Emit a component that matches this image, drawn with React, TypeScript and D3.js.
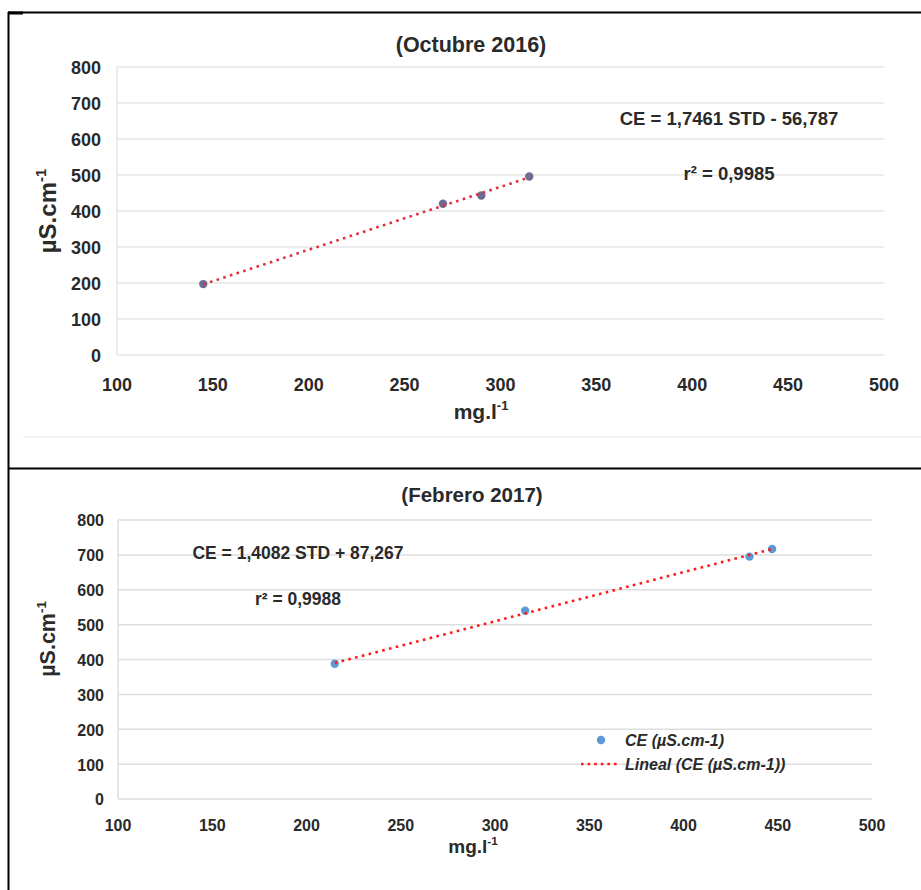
import React from "react";
import * as d3 from "d3";

// Calibration data: conductivity (CE, µS/cm) versus dissolved solids (STD, mg/l)
const octSTD = [145, 270, 290, 315];
const octCE = [197, 420, 443, 496];
const octSlope = 1.7461;
const octIntercept = -56.787;
const octR2 = 0.9985;

const febSTD = [215, 316, 435, 447];
const febCE = [388, 540, 695, 717];
const febSlope = 1.4082;
const febIntercept = 87.267;
const febR2 = 0.9988;

const xTicks = [100, 150, 200, 250, 300, 350, 400, 450, 500];
const yTicks = [0, 100, 200, 300, 400, 500, 600, 700, 800];

const FONT = "'Liberation Sans', Arial, Helvetica, sans-serif";
const TEXT = "#2a2a2a";

const fmt = (v: number, digits: number) => v.toFixed(digits).replace(".", ",");

type PanelProps = {
  title: string;
  xs: number[];
  ys: number[];
  slope: number;
  intercept: number;
  r2: number;
  xRange: [number, number];
  yRange: [number, number];
  tickSize: number;
  tickRight: number;
  xTickBaseline: number;
  titleX: number;
  titleY: number;
  titleSize: number;
  eqX: number;
  eqY: number;
  r2Y: number;
  eqSize: number;
  yTitleX: number;
  yTitleY: number;
  yTitleSize: number;
  xTitleX: number;
  xTitleY: number;
  xTitleSize: number;
  gridColor: string;
  pointColor: string;
  lineColor: string;
  legend?: { x: number; y: number };
};

function Panel(p: PanelProps) {
  const x = d3.scaleLinear().domain([100, 500]).range(p.xRange);
  const y = d3.scaleLinear().domain([0, 800]).range(p.yRange);
  const x0 = d3.min(p.xs) as number;
  const x1 = d3.max(p.xs) as number;
  const trend = d3
    .line<number>()
    .x((d) => x(d))
    .y((d) => y(p.slope * d + p.intercept));
  const sign = p.intercept < 0 ? "-" : "+";
  const eq = `CE = ${fmt(p.slope, 4)} STD ${sign} ${fmt(Math.abs(p.intercept), 3)}`;

  return (
    <g fontFamily={FONT} fill={TEXT}>
      {/* horizontal grid */}
      {yTicks.map((t) => (
        <line
          key={"g" + t}
          x1={p.xRange[0]}
          x2={p.xRange[1]}
          y1={y(t)}
          y2={y(t)}
          stroke={p.gridColor}
          strokeWidth={1.5}
        />
      ))}
      <line
        x1={p.xRange[0]}
        x2={p.xRange[0]}
        y1={y(800)}
        y2={y(0)}
        stroke={p.gridColor}
        strokeWidth={1.5}
      />
      {/* y tick labels */}
      {yTicks.map((t) => (
        <text
          key={"y" + t}
          x={p.tickRight}
          y={y(t) + p.tickSize * 0.4}
          textAnchor="end"
          fontSize={p.tickSize}
          fontWeight="bold"
        >
          {t}
        </text>
      ))}
      {/* x tick labels */}
      {xTicks.map((t) => (
        <text
          key={"x" + t}
          x={x(t)}
          y={p.xTickBaseline}
          textAnchor="middle"
          fontSize={p.tickSize}
          fontWeight="bold"
        >
          {t}
        </text>
      ))}
      {/* title */}
      <text x={p.titleX} y={p.titleY} textAnchor="middle" fontSize={p.titleSize} fontWeight="bold">
        {p.title}
      </text>
      {/* axis titles */}
      <text
        transform={`translate(${p.yTitleX},${p.yTitleY}) rotate(-90)`}
        textAnchor="middle"
        fontSize={p.yTitleSize}
        fontWeight="bold"
      >
        µS.cm
        <tspan fontSize={p.yTitleSize * 0.62} dy={-p.yTitleSize * 0.42}>
          -1
        </tspan>
      </text>
      <text x={p.xTitleX} y={p.xTitleY} textAnchor="middle" fontSize={p.xTitleSize} fontWeight="bold">
        mg.l
        <tspan fontSize={p.xTitleSize * 0.62} dy={-p.xTitleSize * 0.42}>
          -1
        </tspan>
      </text>
      {/* regression annotation */}
      <text x={p.eqX} y={p.eqY} textAnchor="middle" fontSize={p.eqSize} fontWeight="bold">
        {eq}
      </text>
      <text x={p.eqX} y={p.r2Y} textAnchor="middle" fontSize={p.eqSize} fontWeight="bold">
        {`r² = ${fmt(p.r2, 4)}`}
      </text>
      {/* observations */}
      {p.xs.map((v, i) => (
        <circle key={"p" + i} cx={x(v)} cy={y(p.ys[i])} r={4.2} fill={p.pointColor} />
      ))}
      {/* linear trend */}
      <path
        d={trend([x0, x1]) as string}
        fill="none"
        stroke={p.lineColor}
        strokeWidth={2.6}
        strokeDasharray="2.6 4.4"
      />
      {p.legend && (
        <g>
          <circle cx={p.legend.x + 20} cy={p.legend.y} r={4.2} fill={p.pointColor} />
          <text x={p.legend.x + 44} y={p.legend.y + 6} fontSize={16} fontWeight="bold" fontStyle="italic">
            CE (µS.cm-1)
          </text>
          <line
            x1={p.legend.x}
            x2={p.legend.x + 38}
            y1={p.legend.y + 24}
            y2={p.legend.y + 24}
            stroke={p.lineColor}
            strokeWidth={2.6}
            strokeDasharray="2.6 4.0"
          />
          <text x={p.legend.x + 44} y={p.legend.y + 30} fontSize={16} fontWeight="bold" fontStyle="italic">
            Lineal (CE (µS.cm-1))
          </text>
        </g>
      )}
    </g>
  );
}

export default function App() {
  return (
    <svg
      width={921}
      height={890}
      style={{ position: "absolute", left: 0, top: 0, background: "#fff" }}
    >
      <rect width={921} height={890} fill="#fff" />
      {/* table frame */}
      <line x1={8} x2={921} y1={12.5} y2={12.5} stroke="#000" strokeWidth={2} />
      <line x1={8} x2={23} y1={13} y2={13} stroke="#000" strokeWidth={3} />
      <line x1={8.5} x2={8.5} y1={12} y2={890} stroke="#000" strokeWidth={2} />
      <line x1={8} x2={921} y1={468.5} y2={468.5} stroke="#000" strokeWidth={2} />
      <line x1={23} x2={921} y1={437} y2={437} stroke="#efefef" strokeWidth={1.5} />

      <Panel
        title="(Octubre 2016)"
        xs={octSTD}
        ys={octCE}
        slope={octSlope}
        intercept={octIntercept}
        r2={octR2}
        xRange={[117, 884]}
        yRange={[355, 67]}
        tickSize={18}
        tickRight={101}
        xTickBaseline={391}
        titleX={471}
        titleY={52}
        titleSize={21.5}
        eqX={729}
        eqY={125}
        r2Y={180}
        eqSize={18.5}
        yTitleX={56}
        yTitleY={211}
        yTitleSize={24}
        xTitleX={481}
        xTitleY={419}
        xTitleSize={21}
        gridColor="#e6e6e6"
        pointColor="#6b6c92"
        lineColor="#e0303c"
      />
      <Panel
        title="(Febrero 2017)"
        xs={febSTD}
        ys={febCE}
        slope={febSlope}
        intercept={febIntercept}
        r2={febR2}
        xRange={[118, 872]}
        yRange={[799, 520]}
        tickSize={16}
        tickRight={104}
        xTickBaseline={831}
        titleX={472}
        titleY={502}
        titleSize={20.5}
        eqX={298}
        eqY={559}
        r2Y={605}
        eqSize={17.5}
        yTitleX={55}
        yTitleY={639}
        yTitleSize={21.5}
        xTitleX={473}
        xTitleY={853}
        xTitleSize={19}
        gridColor="#dedede"
        pointColor="#5b9bd5"
        lineColor="#ff1a1a"
        legend={{ x: 581, y: 740 }}
      />
    </svg>
  );
}
